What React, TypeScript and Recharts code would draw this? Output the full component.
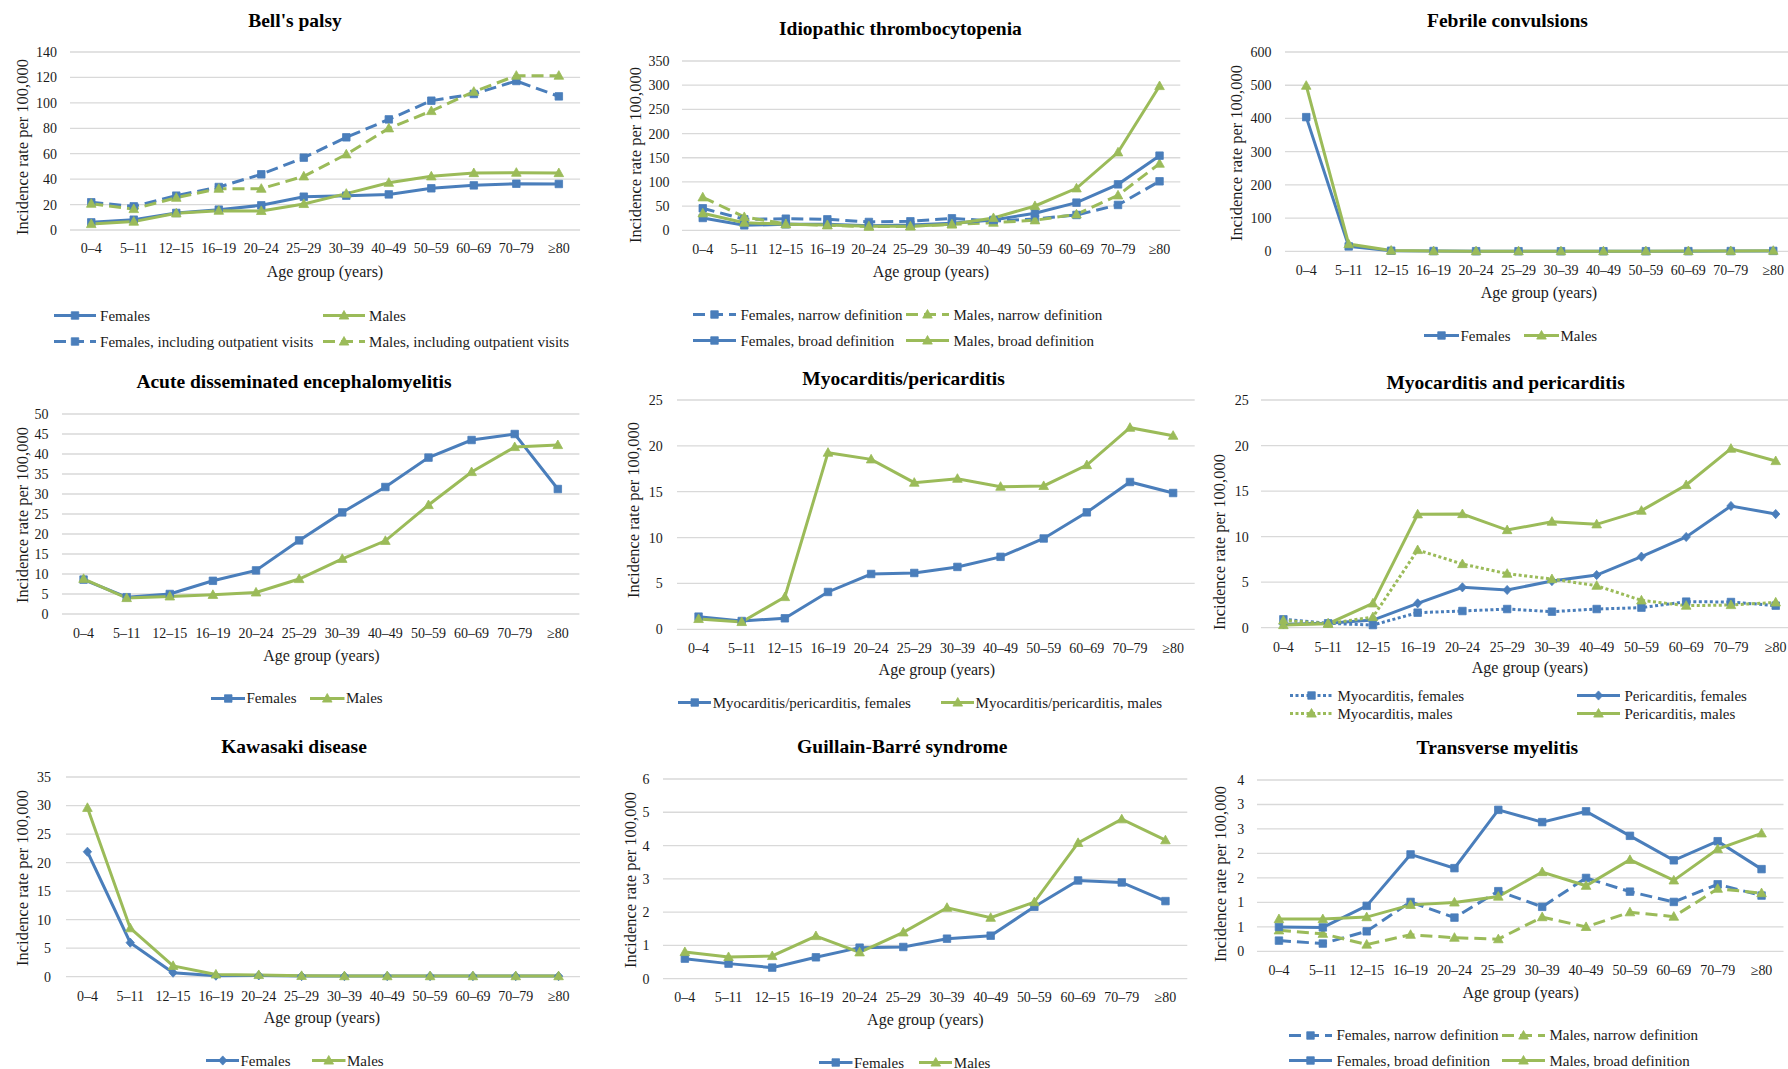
import React from 'react';
import { LineChart, Line, XAxis, YAxis, CartesianGrid } from 'recharts';

const AGE_GROUPS = ['0–4', '5–11', '12–15', '16–19', '20–24', '25–29', '30–39', '40–49', '50–59', '60–69', '70–79', '≥80'];

// Bell's palsy
const BELL_FEMALES = [6.0, 8.1, 13.4, 16.0, 19.4, 26.2, 27.0, 28.0, 32.8, 35.1, 36.4, 36.2];
const BELL_MALES = [4.7, 6.6, 13.1, 15.2, 15.0, 20.5, 28.6, 37.2, 42.2, 44.8, 45.1, 44.8];
const BELL_FEMALES_OUT = [21.8, 18.6, 27.0, 33.8, 43.8, 56.9, 72.9, 87.0, 101.7, 107.0, 117.2, 105.1];
const BELL_MALES_OUT = [20.7, 16.5, 25.4, 32.5, 32.5, 42.2, 59.5, 80.0, 93.6, 108.8, 121.4, 121.4];
const BELL_TICKS = [0, 20, 40, 60, 80, 100, 120, 140];

// Idiopathic thrombocytopenia
const ITP_F_NARROW = [45.5, 22.7, 24.0, 22.7, 17.2, 18.6, 24.8, 19.0, 23.4, 31.7, 52.4, 101.3];
const ITP_M_NARROW = [68.2, 27.6, 13.1, 10.3, 7.6, 8.3, 12.4, 15.8, 20.7, 33.0, 72.3, 137.8];
const ITP_F_BROAD = [25.5, 10.3, 12.4, 12.4, 9.6, 11.0, 14.5, 21.4, 35.1, 57.2, 95.0, 154.3];
const ITP_M_BROAD = [35.1, 15.8, 12.4, 11.0, 8.3, 8.3, 12.4, 25.5, 50.3, 86.8, 161.2, 298.3];
const ITP_TICKS = [0, 50, 100, 150, 200, 250, 300, 350];

// Febrile convulsions
const FEB_FEMALES = [404, 15, 2, 1, 0.6, 0.5, 0.5, 0.5, 0.6, 0.8, 1.0, 1.5];
const FEB_MALES = [498.6, 22, 2.5, 1, 0.7, 0.6, 0.6, 0.6, 0.8, 1.0, 1.2, 2.0];
const FEB_TICKS = [0, 100, 200, 300, 400, 500, 600];

// Acute disseminated encephalomyelitis
const ADEM_FEMALES = [8.6, 4.2, 5.0, 8.3, 10.9, 18.4, 25.4, 31.75, 39.1, 43.5, 45.0, 31.25];
const ADEM_MALES = [8.8, 4.0, 4.4, 4.8, 5.4, 8.75, 13.8, 18.3, 27.25, 35.5, 41.75, 42.25];
const ADEM_TICKS = [0, 5, 10, 15, 20, 25, 30, 35, 40, 45, 50];

// Myocarditis/pericarditis
const MP_FEMALES = [1.38, 0.9, 1.2, 4.07, 6.03, 6.14, 6.8, 7.9, 9.9, 12.75, 16.06, 14.86];
const MP_MALES = [1.13, 0.8, 3.52, 19.26, 18.53, 15.99, 16.42, 15.55, 15.63, 17.91, 21.98, 21.11];
const MP_TICKS = [0, 5, 10, 15, 20, 25];

// Myocarditis and pericarditis
const MYO_FEMALES = [0.92, 0.48, 0.29, 1.65, 1.83, 2.05, 1.76, 2.05, 2.2, 2.86, 2.82, 2.42];
const MYO_MALES = [0.8, 0.44, 1.17, 8.53, 6.99, 5.93, 5.34, 4.61, 3.0, 2.42, 2.49, 2.78];
const PERI_FEMALES = [0.37, 0.48, 0.84, 2.67, 4.43, 4.14, 5.12, 5.78, 7.8, 9.96, 13.36, 12.48];
const PERI_MALES = [0.29, 0.44, 2.67, 12.45, 12.48, 10.72, 11.64, 11.35, 12.85, 15.67, 19.66, 18.3];
const MYOPERI_TICKS = [0, 5, 10, 15, 20, 25];

// Kawasaki disease
const KAW_FEMALES = [21.9, 5.96, 0.7, 0.18, 0.23, 0.1, 0.1, 0.1, 0.1, 0.1, 0.1, 0.1];
const KAW_MALES = [29.6, 8.5, 1.9, 0.4, 0.3, 0.15, 0.1, 0.1, 0.1, 0.1, 0.1, 0.1];
const KAW_TICKS = [0, 5, 10, 15, 20, 25, 30, 35];

// Guillain-Barré syndrome
const GBS_FEMALES = [0.6, 0.45, 0.33, 0.64, 0.93, 0.95, 1.2, 1.29, 2.16, 2.95, 2.89, 2.33];
const GBS_MALES = [0.8, 0.65, 0.68, 1.28, 0.79, 1.39, 2.13, 1.83, 2.3, 4.08, 4.79, 4.16];
const GBS_TICKS = [0, 1, 2, 3, 4, 5, 6];

// Transverse myelitis
const TM_F_NARROW = [0.22, 0.16, 0.41, 1.01, 0.69, 1.23, 0.91, 1.5, 1.22, 1.01, 1.37, 1.14];
const TM_M_NARROW = [0.43, 0.36, 0.14, 0.34, 0.28, 0.25, 0.7, 0.5, 0.8, 0.71, 1.28, 1.19];
const TM_F_BROAD = [0.5, 0.49, 0.93, 1.98, 1.7, 2.89, 2.64, 2.86, 2.36, 1.86, 2.25, 1.68];
const TM_M_BROAD = [0.66, 0.66, 0.7, 0.95, 1.0, 1.12, 1.62, 1.34, 1.87, 1.45, 2.09, 2.41];
const TM_TICKS = [0, 0.5, 1, 1.5, 2, 2.5, 3, 3.5];

const BLUE = '#4a7ebb';
const GREEN = '#9bbb59';
const FONT = '"Liberation Serif", "Times New Roman", serif';
const TEXT = '#1a1a1a';
const DASH = '12 6';
const DOT = '3 2.5';

type Shape = 'square' | 'triangle' | 'diamond';
type SeriesDef = { key: string; name: string; values: number[]; color: string; shape: Shape; dash?: string };

function markerPath(shape: Shape, cx: number, cy: number) {
  if (shape === 'square') {
    const s = 7.5;
    return `M${cx - s / 2},${cy - s / 2}h${s}v${s}h${-s}Z`;
  }
  if (shape === 'triangle') {
    return `M${cx},${cy - 5}L${cx + 4.8},${cy + 3.6}L${cx - 4.8},${cy + 3.6}Z`;
  }
  return `M${cx},${cy - 4.6}L${cx + 4.2},${cy}L${cx},${cy + 4.6}L${cx - 4.2},${cy}Z`;
}

const makeDot = (shape: Shape, color: string) => (props: any) => {
  const { cx, cy, index } = props;
  if (cx == null || cy == null) return <g key={`n${index}`} />;
  return <path key={`d${index}`} d={markerPath(shape, cx, cy)} fill={color} stroke={color} strokeWidth={0.8} />;
};

type PanelDef = {
  title: string;
  titlePos: [number, number];
  plot: { left: number; top: number; right: number; bottom: number };
  ticks: number[];
  tickFormatter?: (v: number) => string;
  yTickRight: number;
  xTickY: number;
  yTitlePos: [number, number];
  xTitlePos: [number, number];
  series: SeriesDef[];
  legend: { iconW: number; gap: number; cols: number[]; rows: number[]; place: [number, number][] };
};

const fem = (key: string, name: string, values: number[], shape: Shape = 'square', dash?: string): SeriesDef => ({ key, name, values, color: BLUE, shape, dash });
const mal = (key: string, name: string, values: number[], dash?: string): SeriesDef => ({ key, name, values, color: GREEN, shape: 'triangle', dash });

const PANELS: PanelDef[] = [
  {
    title: "Bell's palsy",
    titlePos: [295, 21],
    plot: { left: 69.7, top: 52.3, right: 579.8, bottom: 230.3 },
    ticks: BELL_TICKS,
    yTickRight: 56.6,
    xTickY: 249,
    yTitlePos: [23, 146.5],
    xTitlePos: [325, 271.7],
    series: [
      fem('f', 'Females', BELL_FEMALES),
      mal('m', 'Males', BELL_MALES),
      fem('fo', 'Females, including outpatient visits', BELL_FEMALES_OUT, 'square', DASH),
      mal('mo', 'Males, including outpatient visits', BELL_MALES_OUT, DASH),
    ],
    legend: { iconW: 42, gap: 4.5, cols: [53.6, 322.6], rows: [315.7, 341.7], place: [[0, 0], [1, 0], [0, 1], [1, 1]] },
  },
  {
    title: 'Idiopathic thrombocytopenia',
    titlePos: [900.4, 29.3],
    plot: { left: 682.3, top: 61, right: 1180.6, bottom: 230.3 },
    ticks: ITP_TICKS,
    yTickRight: 669.7,
    xTickY: 249,
    yTitlePos: [635.5, 155],
    xTitlePos: [931, 271.7],
    series: [
      fem('fn', 'Females, narrow definition', ITP_F_NARROW, 'square', DASH),
      mal('mn', 'Males, narrow definition', ITP_M_NARROW, DASH),
      fem('fb', 'Females, broad definition', ITP_F_BROAD),
      mal('mb', 'Males, broad definition', ITP_M_BROAD),
    ],
    legend: { iconW: 43, gap: 4.5, cols: [693, 906], rows: [314.7, 340.7], place: [[0, 0], [1, 0], [0, 1], [1, 1]] },
  },
  {
    title: 'Febrile convulsions',
    titlePos: [1507.5, 21],
    plot: { left: 1284.5, top: 52.3, right: 1794, bottom: 251.7 },
    ticks: FEB_TICKS,
    yTickRight: 1271,
    xTickY: 270.7,
    yTitlePos: [1237.4, 153],
    xTitlePos: [1539, 292.7],
    series: [fem('f', 'Females', FEB_FEMALES), mal('m', 'Males', FEB_MALES)],
    legend: { iconW: 35, gap: 1.5, cols: [1424, 1524], rows: [335.7], place: [[0, 0], [1, 0]] },
  },
  {
    title: 'Acute disseminated encephalomyelitis',
    titlePos: [294, 382.3],
    plot: { left: 62.4, top: 414.3, right: 579.8, bottom: 614.3 },
    ticks: ADEM_TICKS,
    yTickRight: 49,
    xTickY: 633.4,
    yTitlePos: [23, 515],
    xTitlePos: [321.5, 656],
    series: [fem('f', 'Females', ADEM_FEMALES), mal('m', 'Males', ADEM_MALES)],
    legend: { iconW: 34.5, gap: 1.5, cols: [210.5, 310], rows: [698.3], place: [[0, 0], [1, 0]] },
  },
  {
    title: 'Myocarditis/pericarditis',
    titlePos: [903.5, 379],
    plot: { left: 677.3, top: 400, right: 1195, bottom: 629.3 },
    ticks: MP_TICKS,
    yTickRight: 663,
    xTickY: 648.4,
    yTitlePos: [634.3, 510],
    xTitlePos: [936.8, 670],
    series: [
      fem('f', 'Myocarditis/pericarditis, females', MP_FEMALES),
      mal('m', 'Myocarditis/pericarditis, males', MP_MALES),
    ],
    legend: { iconW: 33.5, gap: 1.5, cols: [677.7, 940.6], rows: [702.7], place: [[0, 0], [1, 0]] },
  },
  {
    title: 'Myocarditis and pericarditis',
    titlePos: [1505.6, 383.3],
    plot: { left: 1260.9, top: 400, right: 1798, bottom: 627.7 },
    ticks: MYOPERI_TICKS,
    yTickRight: 1248.75,
    xTickY: 647.7,
    yTitlePos: [1219.8, 541.7],
    xTitlePos: [1530, 668.3],
    series: [
      fem('myf', 'Myocarditis, females', MYO_FEMALES, 'square', DOT),
      fem('pef', 'Pericarditis, females', PERI_FEMALES, 'diamond'),
      mal('mym', 'Myocarditis, males', MYO_MALES, DOT),
      mal('pem', 'Pericarditis, males', PERI_MALES),
    ],
    legend: { iconW: 43, gap: 4.5, cols: [1290, 1577], rows: [695.5, 713.7], place: [[0, 0], [1, 0], [0, 1], [1, 1]] },
  },
  {
    title: 'Kawasaki disease',
    titlePos: [294, 746.7],
    plot: { left: 65.8, top: 777, right: 579.8, bottom: 976.7 },
    ticks: KAW_TICKS,
    yTickRight: 50.9,
    xTickY: 996.4,
    yTitlePos: [23, 877.5],
    xTitlePos: [322, 1018.3],
    series: [fem('f', 'Females', KAW_FEMALES, 'diamond'), mal('m', 'Males', KAW_MALES)],
    legend: { iconW: 33.5, gap: 1.5, cols: [205.5, 312], rows: [1060.7], place: [[0, 0], [1, 0]] },
  },
  {
    title: 'Guillain-Barré syndrome',
    titlePos: [902.3, 747.3],
    plot: { left: 663.1, top: 778.7, right: 1187.4, bottom: 978.3 },
    ticks: GBS_TICKS,
    yTickRight: 649.7,
    xTickY: 997.4,
    yTitlePos: [630.5, 879.7],
    xTitlePos: [925.3, 1020],
    series: [fem('f', 'Females', GBS_FEMALES), mal('m', 'Males', GBS_MALES)],
    legend: { iconW: 33.5, gap: 1.5, cols: [819, 918.8], rows: [1062.7], place: [[0, 0], [1, 0]] },
  },
  {
    title: 'Transverse myelitis',
    titlePos: [1497.4, 748.3],
    plot: { left: 1256.8, top: 780.3, right: 1783.3, bottom: 951.7 },
    ticks: TM_TICKS,
    tickFormatter: (v: number) => String(Math.round(v)),
    yTickRight: 1244,
    xTickY: 970.7,
    yTitlePos: [1220.5, 874],
    xTitlePos: [1520.6, 992.7],
    series: [
      fem('fn', 'Females, narrow definition', TM_F_NARROW, 'square', DASH),
      mal('mn', 'Males, narrow definition', TM_M_NARROW, DASH),
      fem('fb', 'Females, broad definition', TM_F_BROAD),
      mal('mb', 'Males, broad definition', TM_M_BROAD),
    ],
    legend: { iconW: 43, gap: 4.5, cols: [1288.9, 1501.9], rows: [1035, 1060.7], place: [[0, 0], [1, 0], [0, 1], [1, 1]] },
  },
];

function Txt({ x, y, size, bold, rotate, children }: { x: number; y: number; size: number; bold?: boolean; rotate?: boolean; children: React.ReactNode }) {
  return (
    <div
      style={{
        position: 'absolute',
        left: x,
        top: y,
        transform: `translate(-50%, -50%)${rotate ? ' rotate(-90deg)' : ''}`,
        fontSize: size,
        fontWeight: bold ? 'bold' : 'normal',
        fontFamily: FONT,
        lineHeight: 1,
        whiteSpace: 'nowrap',
        color: bold ? '#000' : TEXT,
      }}
    >
      {children}
    </div>
  );
}

function LegendItem({ x, y, iconW, gap, s }: { x: number; y: number; iconW: number; gap: number; s: SeriesDef }) {
  return (
    <div style={{ position: 'absolute', left: x, top: y, transform: 'translateY(-50%)', display: 'flex', alignItems: 'center', whiteSpace: 'nowrap' }}>
      <svg width={iconW} height={14} style={{ display: 'block' }}>
        <line x1={0} y1={7} x2={iconW} y2={7} stroke={s.color} strokeWidth={3} strokeDasharray={s.dash} />
        <path d={markerPath(s.shape, iconW / 2, 7)} fill={s.color} stroke={s.color} strokeWidth={0.8} />
      </svg>
      <span style={{ marginLeft: gap, fontSize: 15, fontFamily: FONT, lineHeight: 1, color: TEXT }}>{s.name}</span>
    </div>
  );
}

const Y_AXIS_W = 70;
const MT = 12;
const MR = 12;
const XAH = 40;

function Panel({ p }: { p: PanelDef }) {
  const { plot } = p;
  const cellLeft = plot.left - Y_AXIS_W;
  const width = plot.right - cellLeft + MR;
  const height = MT + (plot.bottom - plot.top) + XAH;
  const band = (plot.right - plot.left) / AGE_GROUPS.length;
  const data = AGE_GROUPS.map((g, i) => {
    const row: Record<string, any> = { age: g };
    p.series.forEach((s) => {
      row[s.key] = s.values[i];
    });
    return row;
  });
  const yMax = p.ticks[p.ticks.length - 1];
  const tickStyle = { fill: TEXT, fontSize: 14, fontFamily: FONT };
  return (
    <>
      <div style={{ position: 'absolute', left: cellLeft, top: plot.top - MT }}>
        <LineChart width={width} height={height} data={data} margin={{ top: MT, right: MR, bottom: 0, left: 0 }}>
          <CartesianGrid vertical={false} stroke="#d9d9d9" strokeWidth={1.3} />
          <XAxis
            dataKey="age"
            height={XAH}
            padding={{ left: band / 2, right: band / 2 }}
            axisLine={false}
            tickLine={false}
            tickSize={0}
            tickMargin={p.xTickY - plot.bottom - 5.3}
            interval={0}
            tick={tickStyle}
          />
          <YAxis
            type="number"
            width={Y_AXIS_W}
            domain={[0, yMax]}
            ticks={p.ticks}
            interval={0}
            tickFormatter={p.tickFormatter}
            axisLine={false}
            tickLine={false}
            tickSize={0}
            tickMargin={plot.left - p.yTickRight}
            tick={tickStyle}
          />
          {p.series.map((s) => (
            <Line
              key={s.key}
              dataKey={s.key}
              name={s.name}
              type="linear"
              stroke={s.color}
              strokeWidth={3}
              strokeDasharray={s.dash}
              dot={makeDot(s.shape, s.color)}
              activeDot={false}
              isAnimationActive={false}
            />
          ))}
        </LineChart>
      </div>
      <Txt x={p.titlePos[0]} y={p.titlePos[1]} size={19.5} bold>
        {p.title}
      </Txt>
      <Txt x={p.yTitlePos[0]} y={p.yTitlePos[1]} size={16.5} rotate>
        Incidence rate per 100,000
      </Txt>
      <Txt x={p.xTitlePos[0]} y={p.xTitlePos[1]} size={16}>
        Age group (years)
      </Txt>
      {p.series.map((s, i) => {
        const [c, r] = p.legend.place[i];
        return <LegendItem key={s.key} x={p.legend.cols[c]} y={p.legend.rows[r]} iconW={p.legend.iconW} gap={p.legend.gap} s={s} />;
      })}
    </>
  );
}

export default function App() {
  return (
    <div style={{ position: 'absolute', left: 0, top: 0, width: 1788, height: 1069, overflow: 'hidden', background: '#fff' }}>
      {PANELS.map((p) => (
        <Panel key={p.title} p={p} />
      ))}
    </div>
  );
}
